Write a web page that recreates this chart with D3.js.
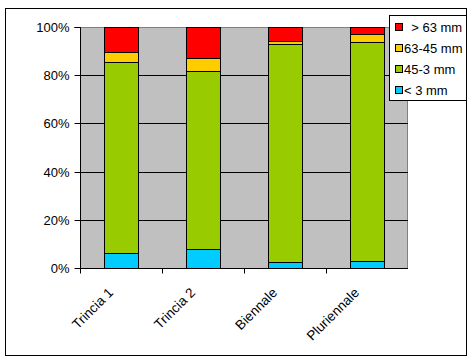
<!DOCTYPE html>
<html><head><meta charset="utf-8">
<script src="https://cdn.jsdelivr.net/npm/d3@7"></script>
<style>
html,body{margin:0;padding:0;background:#fff;}
svg{display:block;font-family:"Liberation Sans",Arial,sans-serif;}
</style></head>
<body><svg id="c" width="474" height="362"></svg>
<script>
const categories = ["Trincia 1", "Trincia 2", "Biennale", "Pluriennale"];
const seriesNames = ["< 3 mm", "45-3 mm", "63-45 mm", "> 63 mm"];
const legendLabels = ["  > 63 mm", "63-45 mm", "45-3 mm", "< 3 mm"];
const below3 = [6.2, 7.9, 2.5, 3.0];
const s45to3 = [79.4, 73.9, 90.4, 90.9];
const s63to45 = [4.1, 5.4, 1.4, 3.2];
const above63 = [10.3, 12.8, 5.7, 2.9];
const colors = ["#00CCFF", "#99CC00", "#FFCC00", "#FF0000"];
const yTicks = [0, 20, 40, 60, 80, 100];

const svg = d3.select("#c");
const L = 80, R = 408, T = 27, B = 268;

// outer chart border
svg.append("rect").attr("x", 5.5).attr("y", 8.5).attr("width", 461).attr("height", 347)
  .attr("fill", "#fff").attr("stroke", "#000").attr("stroke-width", 1);

const x = d3.scaleBand().domain(categories).range([L, R]).paddingInner(0.59).paddingOuter(0.295);
const xb = d3.scaleBand().domain(categories).range([L, R]).padding(0);
const y = d3.scaleLinear().domain([0, 100]).range([B, T]);

// plot area
svg.append("rect").attr("x", L).attr("y", T).attr("width", R - L).attr("height", B - T)
  .attr("fill", "#C0C0C0");
svg.append("path").attr("d", `M${L},${T + 0.5}H${R - 0.5}V${B}`).attr("fill", "none")
  .attr("stroke", "#808080");

// gridlines
svg.append("g").selectAll("line").data(yTicks.filter(d => d > 0 && d < 100)).join("line")
  .attr("x1", L).attr("x2", R).attr("y1", d => Math.round(y(d)) + 0.5).attr("y2", d => Math.round(y(d)) + 0.5)
  .attr("stroke", "#000");

// stacked bars
const table = categories.map((c, i) => ({cat: c, "< 3 mm": below3[i], "45-3 mm": s45to3[i], "63-45 mm": s63to45[i], "> 63 mm": above63[i]}));
const stack = d3.stack().keys(seriesNames).offset(d3.stackOffsetExpand)(table);
const g = svg.append("g");
stack.forEach((layer, si) => {
  g.selectAll(null).data(layer).join("rect")
    .attr("x", d => Math.round(x(d.data.cat)) + 0.5)
    .attr("width", Math.round(x.bandwidth()))
    .attr("y", d => Math.round(y(d[1] * 100)) + 0.5)
    .attr("height", d => Math.round(y(d[0] * 100)) - Math.round(y(d[1] * 100)))
    .attr("fill", colors[si]).attr("stroke", "#000").attr("stroke-width", 1);
});

// y axis
const ya = svg.append("g").attr("transform", `translate(${L + 0.5},0)`)
  .call(d3.axisLeft(y).tickValues(yTicks).tickFormat(d => d + "%").tickSize(6).tickPadding(5));
ya.select(".domain").attr("d", `M-6,${T + 0.5}H0V${B + 0.5}`).attr("stroke", "#000");
ya.selectAll(".tick line").attr("stroke", "#000");
ya.selectAll(".tick").attr("transform", d => `translate(0,${Math.round(y(d)) + 0.5})`);
ya.selectAll("text").attr("font-size", 13).attr("font-family", "Liberation Sans, Arial, sans-serif").attr("fill", "#000");

// x axis
const xa = svg.append("g").attr("transform", `translate(0,${B + 0.5})`);
xa.append("line").attr("x1", L).attr("x2", R).attr("stroke", "#000");
xa.selectAll("line.t").data(categories).join("line").attr("class", "t")
  .attr("x1", d => Math.round(xb(d)) + 0.5).attr("x2", d => Math.round(xb(d)) + 0.5)
  .attr("y1", 0).attr("y2", 5).attr("stroke", "#000");
xa.selectAll("text").data(categories).join("text")
  .attr("transform", d => `translate(${xb(d) + xb.bandwidth() / 2 - 7},${25}) rotate(-45)`)
  .attr("text-anchor", "end").attr("font-size", 13.5).attr("fill", "#000").text(d => d);

// legend
const lg = svg.append("g");
lg.append("rect").attr("x", 389.5).attr("y", 15.5).attr("width", 77).attr("height", 85)
  .attr("fill", "#fff").attr("stroke", "#000");
const legendColors = colors.slice().reverse();
legendLabels.forEach((t, i) => {
  const cy = 27 + i * 21;
  lg.append("rect").attr("x", 395.5).attr("y", cy - 3.5).attr("width", 7).attr("height", 7)
    .attr("fill", legendColors[i]).attr("stroke", "#000");
  lg.append("text").attr("x", 404).attr("y", cy).attr("dy", "0.35em").attr("font-size", 13)
    .style("white-space", "pre").text(t);
});
</script></body></html>
